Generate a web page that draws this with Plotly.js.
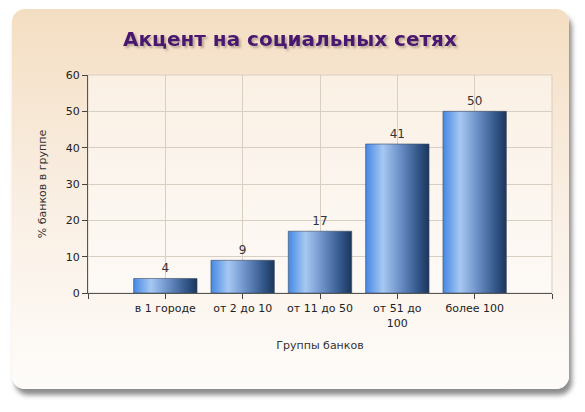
<!DOCTYPE html>
<html>
<head>
<meta charset="utf-8">
<script src="https://cdn.plot.ly/plotly-3.0.1.min.js"></script>
<style>
  html, body { margin: 0; padding: 0; width: 585px; height: 412px; background: #ffffff; overflow: hidden; }
  #card {
    position: absolute; left: 12px; top: 9px; width: 557px; height: 380px;
    border-radius: 13px;
    background: linear-gradient(to bottom, #f4dec2 0%, #f9ede0 45%, #fefcfa 100%);
    box-shadow: 3px 6px 5px rgba(0, 0, 0, 0.45);
  }
  #myDiv { position: absolute; left: 0; top: 0; width: 585px; height: 412px; }
</style>
</head>
<body>
<div id="card"></div>
<div id="myDiv"></div>
<script>
// data
var categories = ["в 1 городе", "от 2 до 10", "от 11 до 50", "от 51 до<br>100", "более 100"];
var values = [4, 9, 17, 41, 50];
var yTicks = [0, 10, 20, 30, 40, 50, 60];

var chartTitle = "Акцент на социальных сетях";
var xTitle = "Группы банков";
var yTitle = "% банков в группе";

// one empty slot on each side of the categories, like the original
var xPos = categories.map(function (c, i) { return i + 1; });
var tickPos = [0].concat(xPos, [categories.length + 1]);
var tickText = [""].concat(categories, [""]);

var font = "DejaVu Sans, Tahoma, sans-serif";

var trace = {
  type: "bar",
  x: xPos,
  y: values,
  width: 0.82,
  text: values.map(String),
  textposition: "outside",
  cliponaxis: false,
  textfont: { family: font, size: 12, color: "#333333" },
  marker: { color: "#4a80d0", line: { color: "#3a4a60", width: 0.6 } },
  hoverinfo: "none",
};

var layout = {
  width: 585,
  height: 412,
  margin: { l: 88, r: 33, t: 75, b: 119 },
  paper_bgcolor: "rgba(0,0,0,0)",
  plot_bgcolor: "rgba(255,255,255,0.45)",
  showlegend: false,
  font: { family: font, size: 11, color: "#222222" },
  xaxis: {
    range: [0, categories.length + 1],
    tickmode: "array",
    tickvals: tickPos,
    ticktext: tickText,
    ticks: "outside",
    ticklen: 5,
    tickcolor: "#444444",
    showline: true,
    linecolor: "#555555",
    linewidth: 1,
    showgrid: true,
    gridcolor: "#d9cec2",
    zeroline: false,
    tickfont: { family: font, size: 11, color: "#222222" },
    title: { text: xTitle, standoff: 12, font: { family: font, size: 11, color: "#333333" } },
    fixedrange: true,
  },
  yaxis: {
    range: [0, 60],
    tickmode: "array",
    tickvals: yTicks,
    ticks: "outside",
    ticklen: 5,
    tickcolor: "#444444",
    showline: true,
    linecolor: "#555555",
    linewidth: 1,
    showgrid: true,
    gridcolor: "#d9cec2",
    zeroline: false,
    tickfont: { family: font, size: 11, color: "#222222" },
    title: { text: yTitle, standoff: 16, font: { family: font, size: 11, color: "#333333" } },
    fixedrange: true,
  },
  shapes: [
    {
      type: "rect", xref: "paper", yref: "paper", x0: 0, x1: 1, y0: 0, y1: 1,
      line: { color: "#d9cec2", width: 1 }, layer: "below",
    },
  ],
  annotations: [
    {
      text: "<b>" + chartTitle + "</b>", xref: "paper", yref: "paper",
      x: 0.4355, y: 1, yshift: 22, showarrow: false,
      font: { family: font, size: 20, color: "#4a1670" },
      xanchor: "center", yanchor: "bottom",
    },
  ],
};

var config = { displayModeBar: false, staticPlot: true };

Plotly.newPlot("myDiv", [trace], layout, config).then(function () {
  var svg = document.querySelector("#myDiv .main-svg");
  var ns = "http://www.w3.org/2000/svg";

  // soft drop shadow under the title
  var filt = document.createElementNS(ns, "filter");
  filt.setAttribute("id", "titleShadow");
  filt.setAttribute("x", "-10%");
  filt.setAttribute("y", "-30%");
  filt.setAttribute("width", "120%");
  filt.setAttribute("height", "160%");
  var ds = document.createElementNS(ns, "feDropShadow");
  ds.setAttribute("dx", "2");
  ds.setAttribute("dy", "2");
  ds.setAttribute("stdDeviation", "1");
  ds.setAttribute("flood-color", "#6a5a50");
  ds.setAttribute("flood-opacity", "0.45");
  filt.appendChild(ds);

  // horizontal gradient on the bars
  var defs = svg.querySelector("defs") || svg.insertBefore(document.createElementNS(ns, "defs"), svg.firstChild);
  var grad = document.createElementNS(ns, "linearGradient");
  grad.setAttribute("id", "barGrad");
  grad.setAttribute("x1", "0");
  grad.setAttribute("x2", "1");
  grad.setAttribute("y1", "0");
  grad.setAttribute("y2", "0");
  [
    ["0", "#4688e4"],
    ["0.27", "#a6c8f2"],
    ["0.55", "#6a8fc6"],
    ["0.85", "#2f5284"],
    ["1", "#1d3559"],
  ].forEach(function (s) {
    var stop = document.createElementNS(ns, "stop");
    stop.setAttribute("offset", s[0]);
    stop.setAttribute("stop-color", s[1]);
    grad.appendChild(stop);
  });
  defs.appendChild(grad);
  defs.appendChild(filt);

  document.querySelectorAll("#myDiv .bars .point path").forEach(function (p) {
    p.style.fill = "url(#barGrad)";
  });
  document.querySelectorAll("#myDiv .annotation-text").forEach(function (t) {
    t.setAttribute("filter", "url(#titleShadow)");
  });
});
</script>
</body>
</html>
